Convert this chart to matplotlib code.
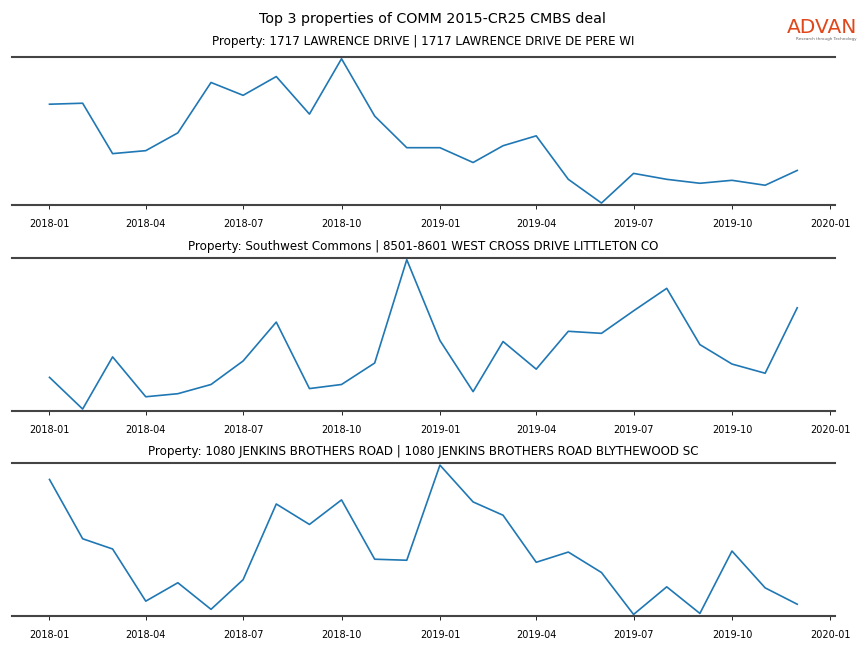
import numpy as np
import pandas as pd
import matplotlib
matplotlib.use('Agg')
import matplotlib.pyplot as plt
import matplotlib.dates as mdates

months = pd.date_range('2018-01-01', '2019-12-01', freq='MS')

titles = [
    'Property: 1717 LAWRENCE DRIVE | 1717 LAWRENCE DRIVE DE PERE WI',
    'Property: Southwest Commons | 8501-8601 WEST CROSS DRIVE LITTLETON CO',
    'Property: 1080 JENKINS BROTHERS ROAD | 1080 JENKINS BROTHERS ROAD BLYTHEWOOD SC',
]

# visits per month (relative scale)
lawrence = [101, 102, 51, 54, 72, 123, 110, 129, 91, 147,
            89, 57, 57, 42, 59, 69, 25, 1, 31, 25, 21, 24, 19, 34]
southwest = [34, 3, 54, 15, 18, 27, 50, 88, 23, 27, 48, 149,
             70, 20, 69, 42, 79, 77, 99, 121, 66, 47, 38, 102]
jenkins = [132, 74, 64, 13, 31, 5, 34, 108, 88, 112, 54, 53,
           146, 110, 97, 51, 61, 41, 0, 27, 1, 62, 26, 10]
series = [lawrence, southwest, jenkins]

fig = plt.figure(figsize=(8.64, 6.48), dpi=100)
fig.suptitle('Top 3 properties of COMM 2015-CR25 CMBS deal', fontsize=10.3, y=0.982)

# logo
fig.text(0.9925, 0.957, 'ADVAN', color='#e0481c', fontsize=14.5, ha='right',
         va='center', fontweight='medium')
fig.text(0.991, 0.94, 'Research through Technology', color='#666666',
         fontsize=3, ha='right', va='center')

boxes = [(0.014, 0.684, 0.952, 0.228),
         (0.014, 0.366, 0.952, 0.236),
         (0.014, 0.049, 0.952, 0.236)]
title_pads = [9, 6, 6]

for box, title, vals, pad in zip(boxes, titles, series, title_pads):
    ax = fig.add_axes(box)
    ax.plot(months, vals, color='#1f77b4', linewidth=1.2)
    ax.margins(x=0.05, y=0.012)
    ax.set_title(title, fontsize=8.6, pad=pad)
    for side in ['left', 'right']:
        ax.spines[side].set_visible(False)
    for side in ['top', 'bottom']:
        ax.spines[side].set_color('#444444')
        ax.spines[side].set_linewidth(1.5)
    ax.set_yticks([])
    ax.xaxis.set_major_locator(mdates.MonthLocator(bymonth=[1, 4, 7, 10]))
    ax.xaxis.set_major_formatter(mdates.DateFormatter('%Y-%m'))
    ax.tick_params(axis='x', labelsize=7, length=3, width=0.6, pad=7)

plt.savefig('out.png', dpi=100)
